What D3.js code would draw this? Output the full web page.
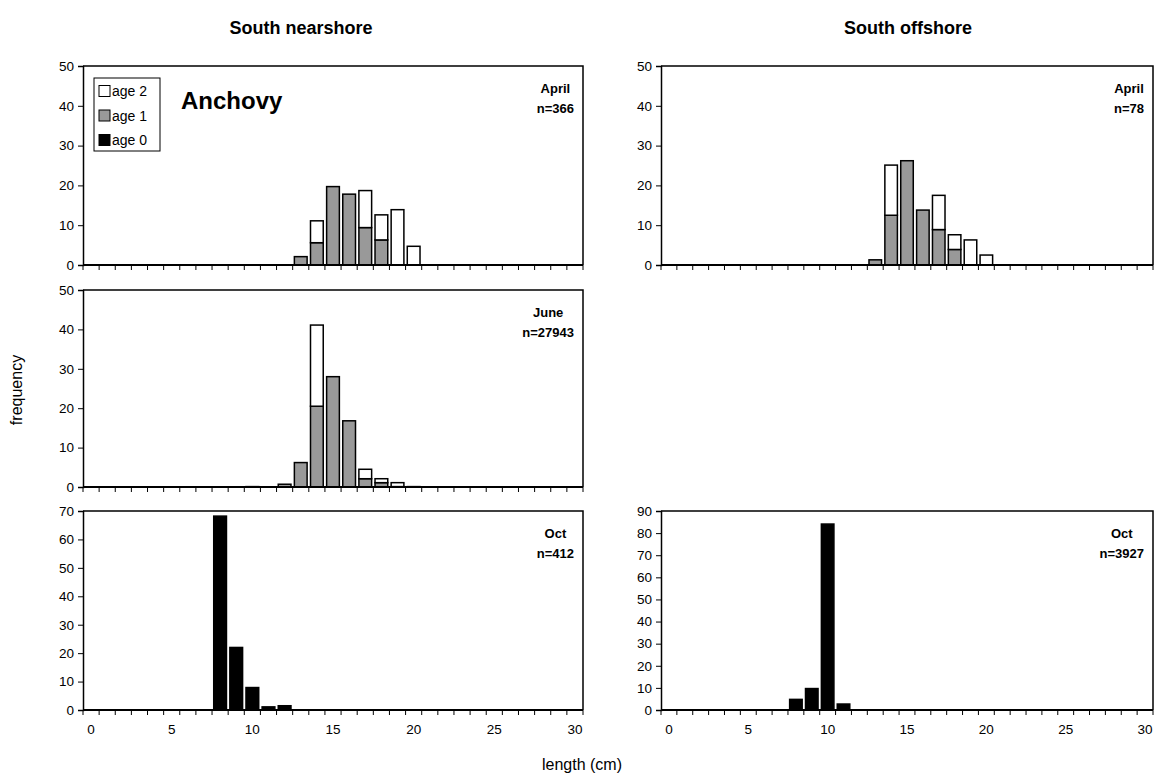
<!DOCTYPE html>
<html>
<head>
<meta charset="utf-8">
<script src="https://cdn.jsdelivr.net/npm/d3@7"></script>
<style>
  body { margin: 0; background: #fff; }
  text { font-family: "Liberation Sans", Arial, sans-serif; fill: #000; }
</style>
</head>
<body>
<div id="container"></div>
<script>
/* DATA */
// length bins (cm), category axis
const lengthBins = [0,1,2,3,4,5,6,7,8,9,10,11,12,13,14,15,16,17,18,19,20,21,22,23,24,25,26,27,28,29,30];
const xTickLabels = [0, 5, 10, 15, 20, 25, 30];
const ageKeys = ["age0", "age1", "age2"];
const legendKeys = ["age 2", "age 1", "age 0"];

// South nearshore, April
const nearAprilBins = [13, 14, 15, 16, 17, 18, 19, 20];
const nearAprilAge1 = [2.1, 5.6, 19.7, 17.8, 9.4, 6.3, 0, 0];
const nearAprilAge2 = [0, 5.5, 0, 0, 9.3, 6.3, 13.9, 4.7];

// South offshore, April
const offAprilBins = [13, 14, 15, 16, 17, 18, 19, 20];
const offAprilAge1 = [1.3, 12.5, 26.2, 13.8, 8.9, 3.9, 0, 0];
const offAprilAge2 = [0, 12.6, 0, 0, 8.6, 3.7, 6.3, 2.5];

// South nearshore, June
const nearJuneBins = [10, 11, 12, 13, 14, 15, 16, 17, 18, 19, 20];
const nearJuneAge1 = [0.1, 0, 0.7, 6.2, 20.5, 28.0, 16.8, 2.1, 1.1, 0.1, 0];
const nearJuneAge2 = [0, 0, 0, 0, 20.6, 0, 0, 2.4, 1.0, 1.0, 0.1];

// October
const nearOctBins = [8, 9, 10, 11, 12];
const nearOctAge0 = [68.2, 22.0, 7.9, 1.1, 1.5];
const offOctBins = [8, 9, 10, 11];
const offOctAge0 = [4.8, 9.7, 84.1, 2.7];

const yTicks50 = [0, 10, 20, 30, 40, 50];
const yTicks70 = [0, 10, 20, 30, 40, 50, 60, 70];
const yTicks90 = [0, 10, 20, 30, 40, 50, 60, 70, 80, 90];

const colors = { age0: "#000000", age1: "#999999", age2: "#ffffff" };

/* HELPERS */
function makeRows(bins, age0, age1, age2) {
  return bins.map((b, i) => ({
    len: b,
    age0: age0 ? age0[i] : 0,
    age1: age1 ? age1[i] : 0,
    age2: age2 ? age2[i] : 0
  }));
}

const width = 1163, height = 780;
const svg = d3.select("#container").append("svg")
  .attr("width", width)
  .attr("height", height);

function drawPanel(p) {
  const xScale = d3.scaleBand()
    .domain(lengthBins)
    .range([p.x0, p.x1])
    .paddingInner(0.21)
    .paddingOuter(0.105);

  const yScale = d3.scaleLinear()
    .domain([0, d3.max(p.yTicks)])
    .range([p.y1, p.y0]);

  const g = svg.append("g");

  // stacked bars
  const stack = d3.stack().keys(ageKeys)(p.rows);
  stack.forEach(layer => {
    g.append("g")
      .selectAll("rect")
      .data(layer.filter(d => d[1] - d[0] > 0))
      .join("rect")
      .attr("x", d => xScale(d.data.len))
      .attr("width", xScale.bandwidth())
      .attr("y", d => yScale(d[1]))
      .attr("height", d => yScale(d[0]) - yScale(d[1]))
      .attr("fill", colors[layer.key])
      .attr("stroke", "#000")
      .attr("stroke-width", 1.5);
  });

  // frame top + right
  g.append("path")
    .attr("d", `M${p.x0},${p.y0}H${p.x1}V${p.y1}`)
    .attr("fill", "none")
    .attr("stroke", "#000")
    .attr("stroke-width", 1.5);

  // y axis
  const yAxis = g.append("g")
    .attr("transform", `translate(${p.x0},0)`)
    .call(d3.axisLeft(yScale).tickValues(p.yTicks).tickSize(5).tickPadding(4));
  yAxis.select(".domain").attr("stroke-width", 1.5);
  yAxis.selectAll("text").style("font-size", "13.5px").style("font-family", "Liberation Sans, Arial, sans-serif");

  // x axis: ticks on bin boundaries
  const step = xScale.step();
  const tickPos = lengthBins.map(b => xScale(b) - xScale.paddingInner() * step / 2);
  tickPos.push(p.x1);
  const xAxis = g.append("g");
  xAxis.append("line")
    .attr("x1", p.x0).attr("x2", p.x1)
    .attr("y1", p.y1).attr("y2", p.y1)
    .attr("stroke", "#000").attr("stroke-width", 2);
  xAxis.selectAll("line.tick")
    .data(tickPos)
    .join("line")
    .attr("class", "tick")
    .attr("x1", d => d).attr("x2", d => d)
    .attr("y1", p.y1).attr("y2", p.y1 + 5)
    .attr("stroke", "#000");
  if (p.showXLabels) {
    xAxis.selectAll("text")
      .data(xTickLabels)
      .join("text")
      .attr("x", d => xScale(d) + xScale.bandwidth() / 2)
      .attr("y", p.y1 + 24)
      .attr("text-anchor", "middle")
      .style("font-size", "13.5px")
      .text(d => d);
  }

  // month / n label
  const lab = g.append("g");
  const t1 = lab.append("text").attr("y", p.y0 + 27).attr("text-anchor", "middle")
    .style("font-size", "13px").style("font-weight", "bold").text(p.month);
  const t2 = lab.append("text").attr("y", p.y0 + 47).attr("text-anchor", "middle")
    .style("font-size", "13px").style("font-weight", "bold").text(p.n);
  const w = Math.max(t1.node().getComputedTextLength(), t2.node().getComputedTextLength());
  const cx = p.x1 - 9 - w / 2;
  t1.attr("x", cx);
  t2.attr("x", cx);

  return { xScale, yScale };
}

/* PANELS */
const leftX = [83, 583];
const rightX = [661, 1153];
const rows = [[66, 265], [290, 487], [511, 710]];

drawPanel({ x0: leftX[0], x1: leftX[1], y0: rows[0][0], y1: rows[0][1], yTicks: yTicks50,
  rows: makeRows(nearAprilBins, null, nearAprilAge1, nearAprilAge2), month: "April", n: "n=366" });
drawPanel({ x0: rightX[0], x1: rightX[1], y0: rows[0][0], y1: rows[0][1], yTicks: yTicks50,
  rows: makeRows(offAprilBins, null, offAprilAge1, offAprilAge2), month: "April", n: "n=78" });
drawPanel({ x0: leftX[0], x1: leftX[1], y0: rows[1][0], y1: rows[1][1], yTicks: yTicks50,
  rows: makeRows(nearJuneBins, null, nearJuneAge1, nearJuneAge2), month: "June", n: "n=27943" });
drawPanel({ x0: leftX[0], x1: leftX[1], y0: rows[2][0], y1: rows[2][1], yTicks: yTicks70,
  rows: makeRows(nearOctBins, nearOctAge0, null, null), month: "Oct", n: "n=412", showXLabels: true });
drawPanel({ x0: rightX[0], x1: rightX[1], y0: rows[2][0], y1: rows[2][1], yTicks: yTicks90,
  rows: makeRows(offOctBins, offOctAge0, null, null), month: "Oct", n: "n=3927", showXLabels: true });

/* TITLES */
svg.append("text").attr("x", 301).attr("y", 34).attr("text-anchor", "middle")
  .style("font-size", "18px").style("font-weight", "bold").text("South nearshore");
svg.append("text").attr("x", 908).attr("y", 34).attr("text-anchor", "middle")
  .style("font-size", "18px").style("font-weight", "bold").text("South offshore");
svg.append("text").attr("x", 181).attr("y", 109)
  .style("font-size", "24px").style("font-weight", "bold").text("Anchovy");
svg.append("text").attr("transform", "translate(22,390) rotate(-90)").attr("text-anchor", "middle")
  .style("font-size", "16px").text("frequency");
svg.append("text").attr("x", 582).attr("y", 770).attr("text-anchor", "middle")
  .style("font-size", "16px").text("length (cm)");

/* LEGEND */
const legend = svg.append("g");
legend.append("rect")
  .attr("x", 94).attr("y", 78).attr("width", 66).attr("height", 73)
  .attr("fill", "#fff").attr("stroke", "#000").attr("stroke-width", 1);
const legendColor = d3.scaleOrdinal().domain(legendKeys).range([colors.age2, colors.age1, colors.age0]);
const legendY = d3.scalePoint().domain(legendKeys).range([91, 140]);
legend.selectAll("rect.key")
  .data(legendKeys)
  .join("rect")
  .attr("class", "key")
  .attr("x", 99).attr("y", d => legendY(d) - 5.5)
  .attr("width", 11).attr("height", 11)
  .attr("fill", d => legendColor(d))
  .attr("stroke", "#000");
legend.selectAll("text")
  .data(legendKeys)
  .join("text")
  .attr("x", 112).attr("y", d => legendY(d) + 5)
  .style("font-size", "14px")
  .text(d => d);
</script>
</body>
</html>
